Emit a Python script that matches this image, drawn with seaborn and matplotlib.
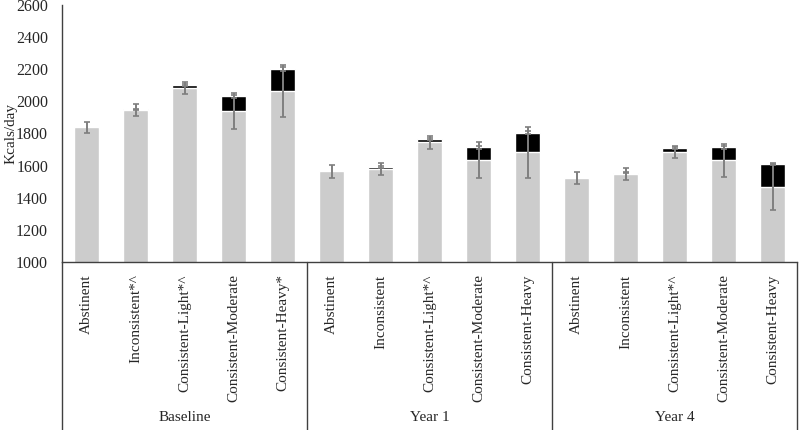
import numpy as np
import pandas as pd
import seaborn as sns
import matplotlib.pyplot as plt
import matplotlib.transforms as mtransforms

# data
periods = ["Baseline", "Year 1", "Year 4"]
groups = ["Abstinent", "Inconsistent", "Consistent-Light", "Consistent-Moderate", "Consistent-Heavy"]
tick_labels = ["Abstinent", "Inconsistent*^", "Consistent-Light*^", "Consistent-Moderate", "Consistent-Heavy*",
               "Abstinent", "Inconsistent", "Consistent-Light*^", "Consistent-Moderate", "Consistent-Heavy",
               "Abstinent", "Inconsistent", "Consistent-Light*^", "Consistent-Moderate", "Consistent-Heavy"]
food_kcal = [1838, 1945, 2082, 1938, 2064,
             1564, 1580, 1745, 1636, 1683,
             1525, 1548, 1685, 1634, 1468]
total_kcal = [1838, 1951, 2103, 2031, 2201,
              1564, 1591, 1763, 1714, 1806,
              1525, 1556, 1708, 1714, 1609]
food_err = [36, 36, 39, 111, 160,
            40, 37, 42, 113, 158,
            38, 36, 38, 103, 144]
total_err = [0, 4, 6, 10, 10,
             0, 4, 6, 10, 12,
             0, 4, 6, 10, 8]

df = pd.DataFrame({
    "period": np.repeat(periods, len(groups)),
    "group": groups * len(periods),
    "food": food_kcal,
    "total": total_kcal,
    "food_err": food_err,
    "total_err": total_err,
})
df["key"] = df["period"] + "|" + df["group"]

sns.set_style("white")
plt.rcParams["font.family"] = ["Liberation Serif", "DejaVu Serif"]

fig = plt.figure(figsize=(8, 4.3), dpi=100)
ax = fig.add_axes([0.0775, 0.3907, 0.91875, 0.5977])

# black = alcohol kcal on top, grey = rest
sns.barplot(data=df, x="key", y="total", color="black", width=0.53, saturation=1, ax=ax)
sns.barplot(data=df, x="key", y="food", color="#cccccc", width=0.53, saturation=1, ax=ax)

xpos = np.arange(len(df))
ax.errorbar(xpos, df["food"], yerr=df["food_err"], fmt="none", ecolor="#7f7f7f",
            elinewidth=1.4, capsize=2.5, capthick=1.2, zorder=5)
has_alc = df["total_err"] > 0
ax.errorbar(xpos[has_alc], df["total"][has_alc], yerr=df["total_err"][has_alc], fmt="none",
            ecolor="#7f7f7f", elinewidth=1.4, capsize=2.5, capthick=1.2, zorder=5)

ax.set_ylim(1000, 2600)
ax.set_yticks(range(1000, 2601, 200))
ax.set_xlim(-0.5, len(df) - 0.5)
ax.set_ylabel("Kcals/day", fontsize=11)
ax.yaxis.set_label_coords(-0.061, 0.5)
ax.set_xlabel("")
ax.set_xticks(xpos)
ax.set_xticklabels(tick_labels, rotation=90, fontsize=11, va="top")
ax.tick_params(axis="x", length=0, pad=9)
ax.tick_params(axis="y", length=0, labelsize=11.5, pad=10)

sns.despine(ax=ax, top=True, right=True)
for s in ["left", "bottom"]:
    ax.spines[s].set_color("#404040")
    ax.spines[s].set_linewidth(1.0)

# group boxes under the axis
trans = mtransforms.blended_transform_factory(ax.transData, ax.transAxes)
n = len(groups)
for i in range(len(periods) + 1):
    xb = i * n - 0.5
    ax.plot([xb, xb], [0, -0.66], transform=trans, color="#404040", lw=1.0, clip_on=False)
for i, p in enumerate(periods):
    ax.text(i * n + (n - 1) / 2, -0.605, p, transform=trans, ha="center", va="center", fontsize=11)

fig.savefig("out.png", dpi=100)
